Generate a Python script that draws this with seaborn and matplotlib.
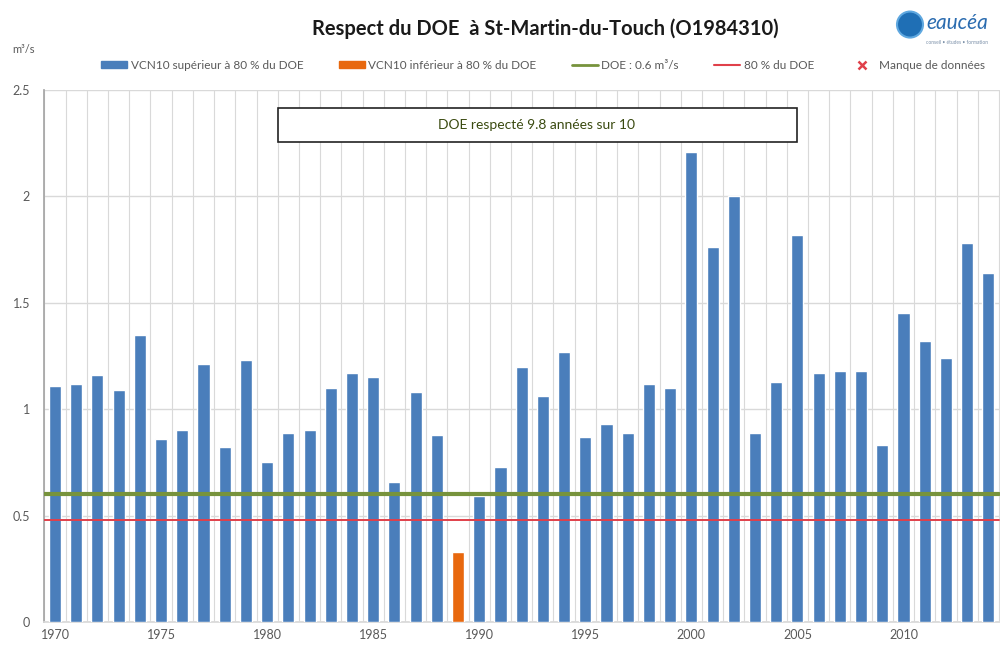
"""Respect du DOE at St-Martin-du-Touch: yearly VCN10 bars vs DOE thresholds."""

import matplotlib.pyplot as plt
import matplotlib.patches as mpatches
from matplotlib.lines import Line2D
import numpy as np
import pandas as pd
import seaborn as sns

sns.set_theme(style="white")
plt.rcParams["font.family"] = ["Lato", "DejaVu Sans"]

YEARS = list(range(1970, 2015))
VCN10 = [
    1.11, 1.12, 1.16, 1.09, 1.35, 0.86, 0.90, 1.21, 0.82, 1.23,
    0.75, 0.89, 0.90, 1.10, 1.17, 1.15, 0.66, 1.08, 0.88, 0.33,
    0.59, 0.73, 1.20, 1.06, 1.27, 0.87, 0.93, 0.89, 1.12, 1.10,
    2.21, 1.76, 2.00, 0.89, 1.13, 1.82, 1.17, 1.18, 1.18, 0.83,
    1.45, 1.32, 1.24, 1.78, 1.64,
]
DOE = 0.6
SEUIL = 0.8 * DOE
TICK_YEARS = list(range(1970, 2015, 5))

BLUE = "#4A7EBB"
ORANGE = "#E8680E"
GREEN = "#77933C"
RED = "#E0404A"
GRID = "#D9D9D9"
TEXT = "#595959"

LABEL_UP = "VCN10 supérieur à 80 % du DOE"
LABEL_DOWN = "VCN10 inférieur à 80 % du DOE"

df = pd.DataFrame({"year": YEARS, "vcn10": VCN10})
df["pos"] = np.arange(len(df))
df["flag"] = np.where(df["vcn10"] >= SEUIL, LABEL_UP, LABEL_DOWN)

fig = plt.figure(figsize=(10, 6.46), dpi=100)
ax = fig.add_axes([0.044, 0.0372, 0.956, 0.8235])

sns.barplot(data=df, x="pos", y="vcn10", hue="flag", dodge=False,
            palette={LABEL_UP: BLUE, LABEL_DOWN: ORANGE}, width=0.57,
            saturation=1, native_scale=True, legend=False, ax=ax, zorder=3)

n = len(df)
ax.plot([-0.5, n - 0.5], [DOE, DOE], color=GREEN, linewidth=3, zorder=4)
ax.plot([-0.5, n - 0.5], [SEUIL, SEUIL], color=RED, linewidth=1.4, zorder=4)

ax.set_xlim(-0.52, n - 0.45)
ax.set_ylim(0, 2.5)
ax.set_yticks(np.arange(0, 2.51, 0.5))
ax.set_yticklabels(["0", "0.5", "1", "1.5", "2", "2.5"])
ax.set_xticks([YEARS.index(y) for y in TICK_YEARS])
ax.set_xticklabels([str(y) for y in TICK_YEARS])
ax.set_xticks(np.arange(-0.5, n, 1), minor=True)
ax.grid(axis="y", color=GRID, linewidth=1, zorder=0)
ax.grid(axis="x", which="minor", color=GRID, linewidth=0.8, zorder=0)
ax.tick_params(axis="both", which="both", length=0, colors=TEXT, labelsize=9)
ax.tick_params(axis="y", pad=10)
ax.tick_params(axis="x", pad=5)
ax.set_xlabel("")
ax.set_ylabel("")
for side in ["top", "right"]:
    ax.spines[side].set_visible(False)
ax.spines["left"].set_color("#A6A6A6")
ax.spines["bottom"].set_color("#D9D9D9")

# "DOE respecté" text box
box = mpatches.Rectangle((0.278, 1 - 142 / 646), 0.519, 34 / 646, transform=fig.transFigure,
                         facecolor="white", edgecolor="#222222", linewidth=1.2, zorder=5)
fig.patches.append(box)
fig.text(0.537, 1 - 125 / 646, "DOE respecté 9.8 années sur 10", ha="center", va="center",
         fontsize=10, color="#3A4A10", zorder=6)

fig.text(0.545, 0.955, "Respect du DOE  à St-Martin-du-Touch (O1984310)", ha="center",
         va="center", fontsize=14.5, fontweight="bold", color="#1A1A1A")
fig.text(0.012, 0.923, "m³/s", ha="left", va="center", fontsize=8, color=TEXT)

handles = [
    mpatches.Patch(color=BLUE, label=LABEL_UP),
    mpatches.Patch(color=ORANGE, label=LABEL_DOWN),
    Line2D([], [], color=GREEN, linewidth=2, label="DOE : 0.6 m³/s"),
    Line2D([], [], color=RED, linewidth=1.5, label="80 % du DOE"),
    Line2D([], [], color=RED, marker="x", linestyle="none", markersize=6,
           markeredgewidth=1.8, label="Manque de données"),
]
fig.legend(handles=handles, loc="center", bbox_to_anchor=(0.543, 0.899), ncol=5,
           frameon=False, fontsize=8.5, labelcolor=TEXT, columnspacing=3.0,
           handlelength=2.2, handleheight=0.6, handletextpad=0.3)

# eaucéa logo
logo = mpatches.Ellipse((0.91, 0.962), 0.026, 0.026 * 1000 / 646, transform=fig.transFigure,
                        facecolor="#1F6FB5", edgecolor="#5FA8E0", linewidth=1.5)
fig.patches.append(logo)
fig.text(0.926, 0.965, "eaucéa", ha="left", va="center", fontsize=15,
         style="italic", color="#2B6CB0")
fig.text(0.926, 0.934, "conseil • études • formation", ha="left", va="center",
         fontsize=3.5, color="#7A8FA8")

fig.savefig("out.png", dpi=100)
